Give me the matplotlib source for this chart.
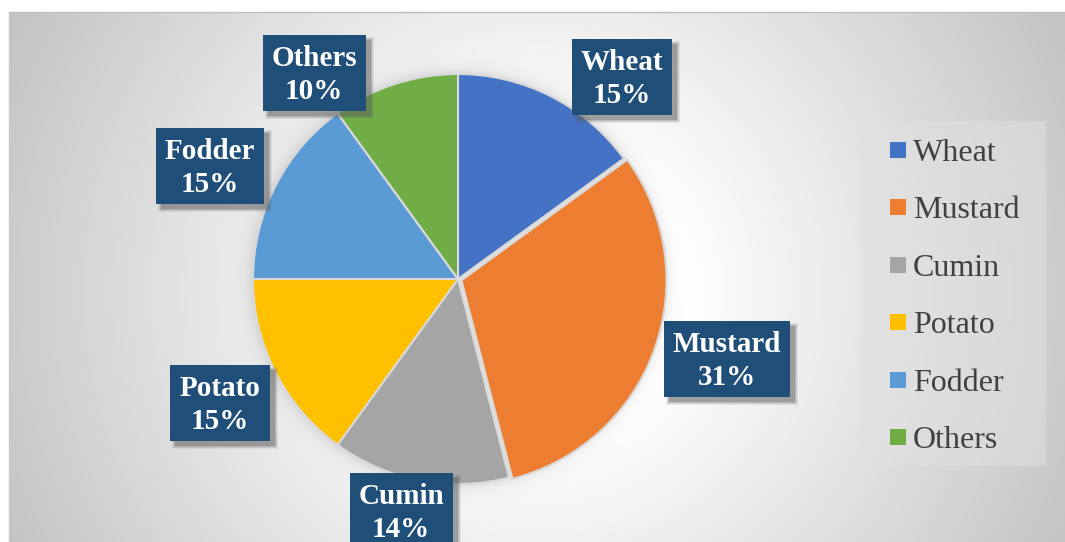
import numpy as np
import matplotlib.pyplot as plt
from matplotlib.patches import Rectangle

crops = ["Wheat", "Mustard", "Cumin", "Potato", "Fodder", "Others"]
shares = [15, 31, 14, 15, 15, 10]
colors = ["#4472C4", "#ED7D31", "#A5A5A5", "#FFC000", "#5B9BD5", "#70AD47"]
explode = [0, 0.018, 0, 0, 0, 0]

# label box centres and widths (pixels)
label_pos = [(622, 77), (727, 359), (401, 511), (220, 403), (210, 166), (314, 73)]
label_w = [100, 126, 103, 100, 108, 103]
label_h = 76

W, H = 1065, 542
cx, cy, rad = 458, 279, 205

fig = plt.figure(figsize=(W / 100, H / 100), dpi=100)

# background: radial grey gradient plus a soft halo round the pie
bg = fig.add_axes([0, 0, 1, 1])
bg.set_xlim(0, W)
bg.set_ylim(H, 0)
bg.axis("off")
yy, xx = np.mgrid[0:H, 0:W] + 0.5
d = np.hypot(xx - 537, yy - 290)
v = 1 - 0.235 * np.clip((d - 150) / 443, 0, 1)
dp = np.hypot(xx - cx, yy - cy)
v -= 0.10 * np.exp(-np.clip(dp - rad, 0, None) / 7)
v[(xx < 9) | (yy < 12)] = 1.0
bg.imshow(np.dstack([v, v, v]), extent=(0, W, H, 0), interpolation="bilinear")
bg.plot([9, W], [12, 12], color="#c0c0c0", lw=1)
bg.plot([9, 9], [12, H], color="#c8c8c8", lw=1)

# pie
side = rad * 2.4
ax = fig.add_axes([(cx - side / 2) / W, (H - cy - side / 2) / H, side / W, side / H])
ax.pie(shares, colors=colors, startangle=90, counterclock=False, explode=explode,
       wedgeprops=dict(edgecolor="#d9d9d9", linewidth=1.5))
ax.set_xlim(-1.2, 1.2)
ax.set_ylim(-1.2, 1.2)
ax.set_aspect("equal")
ax.axis("off")

# labels and legend in pixel space
ov = fig.add_axes([0, 0, 1, 1])
ov.set_xlim(0, W)
ov.set_ylim(H, 0)
ov.axis("off")
ov.patch.set_visible(False)

for name, val, (x, y), w in zip(crops, shares, label_pos, label_w):
    x0, y0 = x - w / 2, y - label_h / 2
    for grow, a in [(3, 0.10), (2, 0.15), (1, 0.2), (0, 0.3)]:
        ov.add_patch(Rectangle((x0 + 5 - grow, y0 + 5 - grow), w + 2 * grow, label_h + 2 * grow,
                               color="#606060", alpha=a, lw=0))
    ov.add_patch(Rectangle((x0, y0), w, label_h, color="#1F4E79", lw=0))
    ov.text(x, y + 2, f"{name}\n{val}%", ha="center", va="center", color="white",
            fontsize=21, fontweight="bold", family="Liberation Serif", linespacing=1.3)

# legend
ov.add_patch(Rectangle((860, 121), 186, 345, color="#e0e0e0", alpha=0.55, lw=0))
for i, (name, c) in enumerate(zip(crops, colors)):
    ly = 150 + i * 57.4
    ov.add_patch(Rectangle((890, ly - 8), 16, 16, color=c, lw=0))
    ov.text(913, ly, name, ha="left", va="center_baseline", color="#404040",
            fontsize=23, family="Liberation Serif")

fig.savefig("out.png", dpi=100)
